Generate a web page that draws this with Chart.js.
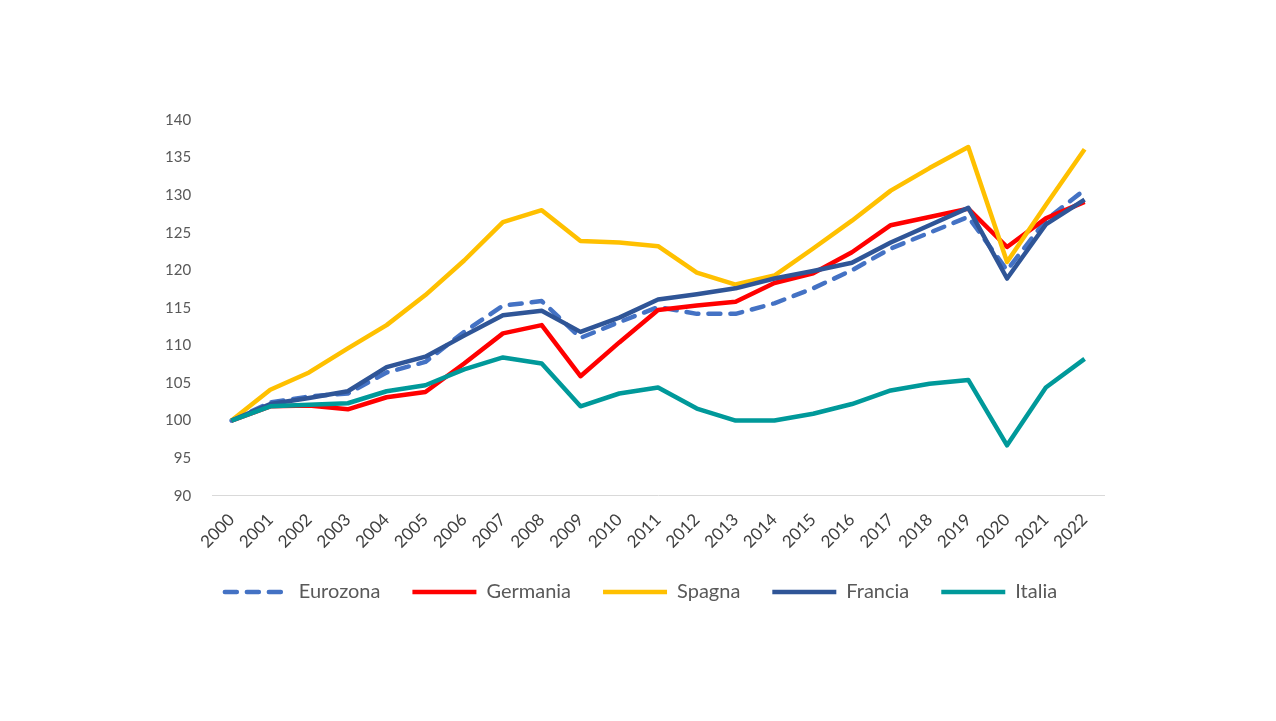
<!DOCTYPE html>
<html>
<head>
<meta charset="utf-8">
<script src="https://cdn.jsdelivr.net/npm/chart.js@4/dist/chart.umd.min.js"></script>
<style>
  html, body { margin: 0; padding: 0; background: #fff; overflow: hidden; }
  #chart { display: block; }
</style>
</head>
<body>
<canvas id="chart" width="1276" height="721"></canvas>
<script>
// Years on the x axis
const years = ['2000','2001','2002','2003','2004','2005','2006','2007','2008','2009','2010',
  '2011','2012','2013','2014','2015','2016','2017','2018','2019','2020','2021','2022'];

// Index values (2000 = 100)
const eurozona = [100, 102.4, 103.2, 103.6, 106.4, 107.8, 111.8, 115.3, 115.9, 111.0, 113.1,
  115.1, 114.2, 114.2, 115.6, 117.6, 120.0, 122.9, 125.0, 127.1, 120.0, 126.7, 130.7];
const germania = [100, 101.9, 102.0, 101.5, 103.1, 103.8, 107.6, 111.6, 112.7, 105.9, 110.4,
  114.7, 115.3, 115.8, 118.3, 119.6, 122.4, 126.0, 127.1, 128.2, 123.1, 126.9, 129.1];
const spagna = [100, 104.1, 106.4, 109.6, 112.7, 116.7, 121.3, 126.4, 128.0, 123.9, 123.7,
  123.2, 119.7, 118.1, 119.3, 122.9, 126.6, 130.6, 133.6, 136.4, 121.1, 128.7, 136.1];
const francia = [100, 102.2, 103.0, 103.9, 107.1, 108.5, 111.3, 114.0, 114.6, 111.8, 113.7,
  116.1, 116.8, 117.6, 118.9, 119.9, 121.0, 123.7, 126.0, 128.3, 118.9, 126.1, 129.4];
const italia = [100, 101.9, 102.1, 102.3, 103.9, 104.7, 106.8, 108.4, 107.6, 101.9, 103.6,
  104.4, 101.6, 100.0, 100.0, 100.9, 102.2, 104.0, 104.9, 105.4, 96.7, 104.4, 108.2];

const textColor = '#595959';
const fontFamily = 'Lato, "Liberation Sans", sans-serif';

function line(label, data, color, order, dash) {
    return {
        label: label,
        data: data,
        borderColor: color,
        backgroundColor: color,
        borderWidth: 4.5,
        borderDash: dash || [],
        borderCapStyle: dash ? 'round' : 'butt',
        borderJoinStyle: 'round',
        pointRadius: 0,
        pointHoverRadius: 0,
        tension: 0,
        fill: false,
        order: order
    };
}

// nudge the legend to where it sits in the original
const legendShift = {
    id: 'legendShift',
    afterUpdate(chart) {
        const lg = chart.legend;
        if (!lg) return;
        lg.left += 17; lg.right += 17;
        lg.top -= 8; lg.bottom -= 8;
    }
};

const ctx = document.getElementById('chart').getContext('2d');
new Chart(ctx, {
    type: 'line',
    data: {
        labels: years,
        datasets: [
            line('Eurozona', eurozona, '#4472C4', 5, [12, 10]),
            line('Germania', germania, '#FF0000', 4),
            line('Spagna', spagna, '#FFC000', 3),
            line('Francia', francia, '#2F5597', 2),
            line('Italia', italia, '#00999A', 1)
        ]
    },
    options: {
        responsive: false,
        animation: false,
        devicePixelRatio: 1,
        layout: {
            padding: { left: 144, right: 172, top: 120, bottom: 101 }
        },
        plugins: {
            tooltip: { enabled: false },
            legend: {
                position: 'bottom',
                labels: {
                    usePointStyle: true,
                    pointStyle: 'line',
                    pointStyleWidth: 64,
                    padding: 32,
                    color: textColor,
                    font: { family: fontFamily, size: 20 },
                    sort: (a, b) => a.datasetIndex - b.datasetIndex,
                    // keep the dash of the Eurozona line in its legend sample
                    generateLabels: (chart) => {
                        const items = Chart.defaults.plugins.legend.labels.generateLabels(chart);
                        items.forEach(item => {
                            const ds = chart.data.datasets[item.datasetIndex];
                            item.lineDash = ds.borderDash;
                            item.lineCap = ds.borderDash.length ? 'round' : 'butt';
                        });
                        return items;
                    }
                }
            }
        },
        scales: {
            x: {
                offset: true,
                grid: { display: false },
                border: { display: true, color: '#D9D9D9', width: 1 },
                ticks: {
                    color: '#404040',
                    font: { family: fontFamily, size: 17 },
                    minRotation: 45,
                    maxRotation: 45,
                    autoSkip: false,
                    padding: 6
                }
            },
            y: {
                min: 90,
                max: 140,
                grid: { display: false, drawTicks: false },
                border: { display: false },
                ticks: {
                    stepSize: 5,
                    color: textColor,
                    font: { family: fontFamily, size: 15 },
                    padding: 21
                }
            }
        }
    },
    plugins: [legendShift]
});
</script>
</body>
</html>
